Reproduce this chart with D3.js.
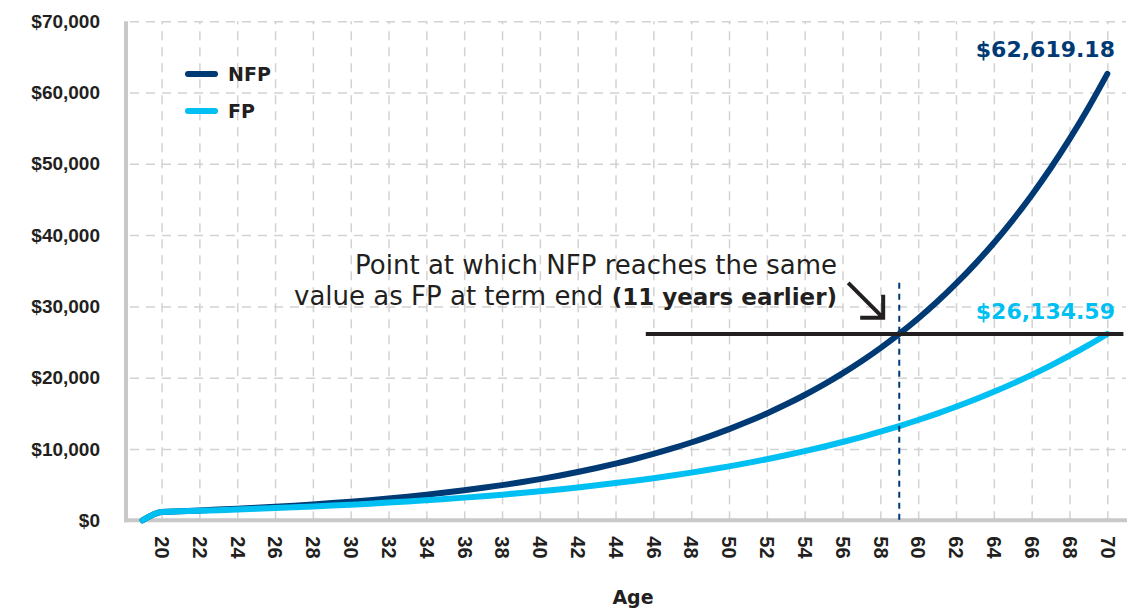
<!DOCTYPE html>
<html lang="en">
<head>
<meta charset="UTF-8">
<title>NFP vs FP</title>
<script src="https://d3js.org/d3.v7.min.js"></script>
<style>
  body { margin: 0; background: #fff; }
  svg { display: block; font-family: "DejaVu Sans", sans-serif; }
</style>
</head>
<body>
<div id="chart"></div>
<script>
// ages on the x axis (19 is the starting point at $0)
const ages = [19, 20, 21, 22, 23, 24, 25, 26, 27, 28, 29, 30, 31, 32, 33, 34, 35, 36, 37, 38, 39,
  40, 41, 42, 43, 44, 45, 46, 47, 48, 49, 50, 51, 52, 53, 54, 55, 56, 57, 58, 59,
  60, 61, 62, 63, 64, 65, 66, 67, 68, 69, 70];

// values
const nfpValues = [0, 1180, 1278, 1383, 1498, 1621, 1756, 1901, 2058, 2228, 2412, 2612, 2828, 3061,
  3314, 3589, 3885, 4206, 4554, 4931, 5339, 5780, 6258, 6775, 7335, 7942, 8598, 9309, 10079,
  10912, 11815, 12792, 13849, 14994, 16234, 17576, 19029, 20603, 22306, 24151, 26148, 28310,
  30650, 33185, 35929, 38900, 42116, 45598, 49369, 53451, 57871, 62619.18];

const fpValues = [0, 1180, 1255, 1336, 1421, 1512, 1608, 1711, 1821, 1937, 2061, 2193, 2333, 2482,
  2640, 2809, 2989, 3180, 3383, 3599, 3829, 4074, 4334, 4611, 4906, 5219, 5553, 5908, 6285,
  6687, 7114, 7569, 8053, 8568, 9115, 9698, 10317, 10977, 11678, 12425, 13219, 14064, 14963,
  15919, 16936, 18019, 19170, 20395, 21699, 23086, 24561, 26134.59];

const xTicks = [20, 22, 24, 26, 28, 30, 32, 34, 36, 38, 40, 42, 44, 46, 48, 50,
  52, 54, 56, 58, 60, 62, 64, 66, 68, 70];
const yTicks = [0, 10000, 20000, 30000, 40000, 50000, 60000, 70000];
const yTickLabels = ["$0", "$10,000", "$20,000", "$30,000", "$40,000", "$50,000", "$60,000", "$70,000"];

const seriesNames = ["NFP", "FP"];
const endLabels = ["$62,619.18", "$26,134.59"];

// annotation
const crossAge = 59;
const refLineAges = [45.6, 70.85];
const arrowFrom = [56.3, 33300];
const arrowTo = [58.15, 28400];

const NAVY = "#003a75";
const SKY = "#00bff2";
const INK = "#231f20";
const GRID = "#d2d2d2";
const AXIS = "#c8c8c8";

const width = 1130, height = 609;
const plotLeft = 126, plotRight = 1127, plotTop = 21.2, plotBottom = 520.3;

const svg = d3.select("#chart").append("svg")
  .attr("width", width)
  .attr("height", height);

const x = d3.scaleLinear().domain([18.12, 71.04]).range([plotLeft, plotRight]);
const y = d3.scaleLinear().domain([0, 70000]).range([plotBottom, plotTop]);

// horizontal grid + y labels
const yAxis = svg.append("g")
  .attr("transform", `translate(${plotLeft},0)`)
  .call(d3.axisLeft(y)
    .tickValues(yTicks)
    .tickFormat((d, i) => yTickLabels[i])
    .tickSizeInner(-(1126 - plotLeft))
    .tickSizeOuter(0)
    .tickPadding(26));
yAxis.select(".domain").remove();
yAxis.selectAll(".tick line")
  .attr("stroke", GRID)
  .attr("stroke-width", 1.5)
  .attr("stroke-dasharray", "9,7")
  .attr("stroke-dashoffset", -4);
yAxis.selectAll(".tick text")
  .attr("fill", INK)
  .attr("font-size", 19)
  .attr("font-weight", "bold");

// vertical grid + rotated age labels
const xAxis = svg.append("g")
  .attr("transform", `translate(0,${plotBottom})`)
  .call(d3.axisBottom(x)
    .tickValues(xTicks)
    .tickSizeInner(-(plotBottom - plotTop))
    .tickSizeOuter(0));
xAxis.select(".domain").remove();
xAxis.selectAll(".tick line")
  .attr("stroke", GRID)
  .attr("stroke-width", 1.5)
  .attr("stroke-dasharray", "9,7");
xAxis.selectAll(".tick text")
  .attr("fill", INK)
  .attr("font-size", 20)
  .attr("font-weight", "bold")
  .attr("text-anchor", "start")
  .attr("transform", "rotate(90)")
  .attr("x", 16)
  .attr("y", 0)
  .attr("dy", "0.36em");

// axis lines
svg.append("line")
  .attr("x1", plotLeft).attr("x2", plotLeft)
  .attr("y1", plotTop).attr("y2", plotBottom + 2)
  .attr("stroke", AXIS).attr("stroke-width", 4);
svg.append("line")
  .attr("x1", plotLeft - 2).attr("x2", plotRight)
  .attr("y1", plotBottom).attr("y2", plotBottom)
  .attr("stroke", AXIS).attr("stroke-width", 4);

svg.append("text")
  .attr("x", 633).attr("y", 604)
  .attr("text-anchor", "middle")
  .attr("font-size", 19)
  .attr("font-weight", "bold")
  .attr("fill", INK)
  .text("Age");

// series lines
const line = d3.line()
  .x((d, i) => x(ages[i]))
  .y(d => y(d))
  .curve(d3.curveMonotoneX);

[nfpValues, fpValues].forEach((vals, i) => {
  svg.append("path")
    .datum(vals)
    .attr("d", line)
    .attr("fill", "none")
    .attr("stroke", i === 0 ? NAVY : SKY)
    .attr("stroke-width", 6)
    .attr("stroke-linecap", "round")
    .attr("stroke-linejoin", "round");
});

// reference line at FP end value
const fpEnd = fpValues[fpValues.length - 1];
svg.append("line")
  .attr("x1", x(refLineAges[0])).attr("x2", x(refLineAges[1]))
  .attr("y1", y(fpEnd)).attr("y2", y(fpEnd))
  .attr("stroke", INK).attr("stroke-width", 4);

// dashed marker where NFP hits that value
svg.append("line")
  .attr("x1", x(crossAge)).attr("x2", x(crossAge))
  .attr("y1", y(arrowFrom[1])).attr("y2", plotBottom)
  .attr("stroke", NAVY).attr("stroke-width", 2)
  .attr("stroke-dasharray", "6,5");

// arrow
const ax = x(arrowTo[0]), ay = y(arrowTo[1]);
svg.append("path")
  .attr("d", `M${x(arrowFrom[0])},${y(arrowFrom[1])}L${ax},${ay}M${ax - 23},${ay}L${ax},${ay}L${ax},${ay - 23}`)
  .attr("fill", "none")
  .attr("stroke", INK)
  .attr("stroke-width", 4);

const note = svg.append("text")
  .attr("text-anchor", "end")
  .attr("font-size", 26)
  .attr("fill", INK);
note.append("tspan").attr("x", 837).attr("y", 274)
  .text("Point at which NFP reaches the same");
const l2 = note.append("tspan").attr("x", 837).attr("y", 305);
l2.append("tspan").text("value as FP at term end ");
l2.append("tspan").attr("font-weight", "bold").attr("font-size", 23).text("(11 years earlier)");

// end value labels
svg.append("text")
  .attr("x", 1115).attr("y", 57)
  .attr("text-anchor", "end")
  .attr("font-size", 22).attr("font-weight", "bold")
  .attr("fill", NAVY)
  .text(endLabels[0]);
svg.append("text")
  .attr("x", 1115).attr("y", 319)
  .attr("text-anchor", "end")
  .attr("font-size", 22).attr("font-weight", "bold")
  .attr("fill", SKY)
  .text(endLabels[1]);

// legend
seriesNames.forEach((name, i) => {
  const ly = 74 + i * 37;
  svg.append("line")
    .attr("x1", 188).attr("x2", 215)
    .attr("y1", ly).attr("y2", ly)
    .attr("stroke", i === 0 ? NAVY : SKY)
    .attr("stroke-width", 6)
    .attr("stroke-linecap", "round");
  svg.append("text")
    .attr("x", 228).attr("y", ly + 7)
    .attr("font-size", 19).attr("font-weight", "bold")
    .attr("fill", INK)
    .text(name);
});
</script>
</body>
</html>
